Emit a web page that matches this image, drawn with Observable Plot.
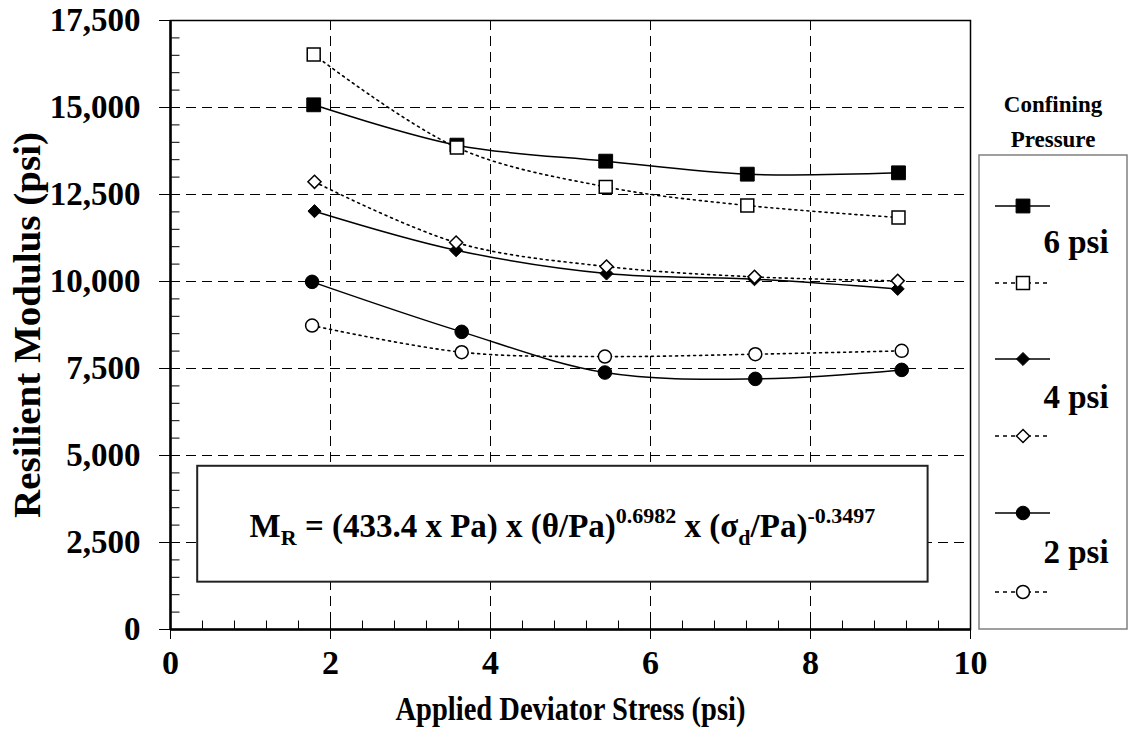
<!DOCTYPE html>
<html><head><meta charset="utf-8">
<script src="https://cdn.jsdelivr.net/npm/d3@7"></script>
<script src="https://cdn.jsdelivr.net/npm/@observablehq/plot@0.6"></script>
<style>
body{margin:0;background:#fff;}
#wrap{position:relative;width:1131px;height:750px;}
</style></head><body><div id="wrap"></div>
<script>
// ---- data ----
const stress6 = [1.79, 3.58, 5.44, 7.21, 9.10];
const mr6Solid = [15077, 13918, 13458, 13084, 13123];
const mr6Open = [16523, 13851, 12720, 12184, 11839];
const stress4 = [1.80, 3.57, 5.45, 7.30, 9.09];
const mr4Solid = [12021, 10900, 10229, 10066, 9788];
const mr4Open = [12864, 11120, 10430, 10133, 10018];
const stress2 = [1.77, 3.64, 5.43, 7.31, 9.14];
const mr2Solid = [9990, 8553, 7384, 7202, 7460];
const mr2Open = [8735, 7968, 7844, 7911, 8007];

const yTicks = [0, 2500, 5000, 7500, 10000, 12500, 15000, 17500];
const xTicks = [0, 2, 4, 6, 8, 10];
const yGrid = [2500, 5000, 7500, 10000, 12500, 15000];
const xGrid = [2, 4, 6, 8];
const yMinor = d3.range(0, 17501, 500);
const xMinor = d3.range(0, 10.001, 0.4).map(v => +v.toFixed(1));

const xTitle = "Applied Deviator Stress (psi)";
const yTitle = "Resilient Modulus (psi)";
const legendTitle = ["Confining", "Pressure"];
const legendLabels = ["6 psi", "4 psi", "2 psi"];

const series = [
  {key: "6 psi measured", x: stress6, y: mr6Solid, symbol: "square", fill: "black", dashed: false, r: 7.8},
  {key: "6 psi predicted", x: stress6, y: mr6Open, symbol: "square", fill: "white", dashed: true, r: 7.3},
  {key: "4 psi measured", x: stress4, y: mr4Solid, symbol: "diamond2", fill: "black", dashed: false, r: 5.9},
  {key: "4 psi predicted", x: stress4, y: mr4Open, symbol: "diamond2", fill: "white", dashed: true, r: 5.9},
  {key: "2 psi measured", x: stress2, y: mr2Solid, symbol: "circle", fill: "black", dashed: false, r: 6.8},
  {key: "2 psi predicted", x: stress2, y: mr2Open, symbol: "circle", fill: "white", dashed: true, r: 6.5}
];
const rows = series.flatMap(s => s.x.map((x, i) => ({series: s.key, stress: x, mr: s.y[i]})));

// equation box extent (data units)
const eqBox = [{x1: 0.34, x2: 9.47, y1: 1360, y2: 4690}];

const FONT = "'Liberation Serif','Times New Roman',serif";

const tickRight = {draw(ctx) { ctx.moveTo(0, 0); ctx.lineTo(9, 0); }};
const tickUp = {draw(ctx) { ctx.moveTo(0, 0); ctx.lineTo(0, -9); }};

const marks = [
  Plot.ruleY(yGrid, {stroke: "#000", strokeWidth: 1, strokeDasharray: "10,6"}),
  Plot.ruleX(xGrid, {stroke: "#000", strokeWidth: 1, strokeDasharray: "10,6"}),
  Plot.rect(eqBox, {x1: "x1", x2: "x2", y1: "y1", y2: "y2", fill: "white", stroke: "#222", strokeWidth: 2})
];
for (const s of series) {
  const data = rows.filter(d => d.series === s.key);
  marks.push(Plot.line(data, {x: "stress", y: "mr", curve: "catmull-rom", stroke: "black",
    strokeWidth: s.dashed ? 1.6 : 1.5, strokeDasharray: s.dashed ? "2,4" : null}));
}
for (const s of series) {
  const data = rows.filter(d => d.series === s.key);
  marks.push(Plot.dot(data, {x: "stress", y: "mr", symbol: s.symbol, r: s.r, fill: s.fill, stroke: "black", strokeWidth: s.fill === "white" ? 1.5 : 1}));
}
marks.push(
  Plot.dot(yMinor, {y: d => d, frameAnchor: "left", symbol: tickRight, r: 3, fill: "none", stroke: "black", strokeWidth: 1}),
  Plot.dot(xMinor, {x: d => d, frameAnchor: "bottom", symbol: tickUp, r: 3, fill: "none", stroke: "black", strokeWidth: 1}),
  Plot.frame({stroke: "black", strokeWidth: 1.5}),
  Plot.ruleY([0], {stroke: "black", strokeWidth: 2.5}),
  Plot.ruleX([0], {stroke: "black", strokeWidth: 2.5}),
  Plot.axisY(yTicks, {tickSize: 11, tickPadding: 19, tickFormat: d3.format(","), fontSize: 33, fontWeight: "bold", label: null}),
  Plot.axisX(xTicks, {tickSize: 10, tickPadding: 10, tickFormat: d => String(d), fontSize: 34, fontWeight: "bold", label: null}),
  Plot.text([yTitle], {frameAnchor: "left", textAnchor: "middle", dx: -142, rotate: -90, fontSize: 37, fontWeight: "bold", text: d => d, className: "ytitle"}),
  Plot.text([xTitle], {frameAnchor: "bottom", textAnchor: "middle", dy: 90, fontSize: 34, fontWeight: "bold", text: d => d, className: "xtitle"})
);

const chart = Plot.plot({
  width: 1131, height: 750,
  marginLeft: 170, marginRight: 161, marginTop: 20, marginBottom: 121,
  x: {domain: [0, 10]},
  y: {domain: [0, 17500]},
  style: {fontFamily: FONT, color: "black", background: "white", overflow: "visible"},
  marks
});
document.getElementById("wrap").appendChild(chart);

const svg = d3.select(chart);
// condensed look of the axis titles
svg.select(".xtitle text").attr("textLength", 350).attr("lengthAdjust", "spacingAndGlyphs");
svg.select(".ytitle text").attr("textLength", 386).attr("lengthAdjust", "spacingAndGlyphs");

// ---- equation text with sub/superscripts ----
const xs = chart.scale("x"), ys = chart.scale("y");
const eqX = (xs.apply(eqBox[0].x1) + xs.apply(eqBox[0].x2)) / 2;
const eqY = (ys.apply(eqBox[0].y1) + ys.apply(eqBox[0].y2)) / 2;
const eq = svg.append("text").attr("x", eqX).attr("y", eqY + 13)
  .attr("text-anchor", "middle").attr("font-family", FONT).attr("font-weight", "bold")
  .attr("font-size", 33).attr("fill", "black");
const parts = [
  ["M", 0, 33], ["R", 8, 22], [" = (433.4 x Pa) x (θ/Pa)", -8, 33], ["0.6982", -14, 22],
  [" x (σ", 14, 33], ["d", 8, 22], ["/Pa)", -8, 33], ["-0.3497", -14, 22]
];
for (const [t, dy, fs] of parts) eq.append("tspan").attr("dy", dy).attr("font-size", fs).text(t);

// ---- legend ----
const lg = svg.append("g").attr("font-family", FONT).attr("font-weight", "bold").attr("fill", "black");
lg.append("text").attr("x", 1053).attr("y", 112).attr("text-anchor", "middle").attr("font-size", 23).text(legendTitle[0]);
lg.append("text").attr("x", 1053).attr("y", 147).attr("text-anchor", "middle").attr("font-size", 23).text(legendTitle[1]);
lg.append("rect").attr("x", 979).attr("y", 155).attr("width", 148).attr("height", 474)
  .attr("fill", "white").attr("stroke", "#808080").attr("stroke-width", 1.5);
const itemY = [206, 283, 359, 436, 513, 592];
const symMap = {square: d3.symbolSquare, diamond2: d3.symbolDiamond2, circle: d3.symbolCircle};
series.forEach((s, i) => {
  const y = itemY[i];
  lg.append("line").attr("x1", 995).attr("x2", 1050).attr("y1", y).attr("y2", y)
    .attr("stroke", "black").attr("stroke-width", 1.5).attr("stroke-dasharray", s.dashed ? "4,4" : null);
  lg.append("path").attr("transform", `translate(1023,${y})`)
    .attr("d", d3.symbol(symMap[s.symbol], Math.PI * s.r * s.r)())
    .attr("fill", s.fill).attr("stroke", "black").attr("stroke-width", s.fill === "white" ? 1.5 : 1);
});
const labelY = [253, 408, 563];
legendLabels.forEach((t, i) => {
  lg.append("text").attr("x", 1076).attr("y", labelY[i]).attr("text-anchor", "middle").attr("font-size", 33).text(t);
});
</script></body></html>
